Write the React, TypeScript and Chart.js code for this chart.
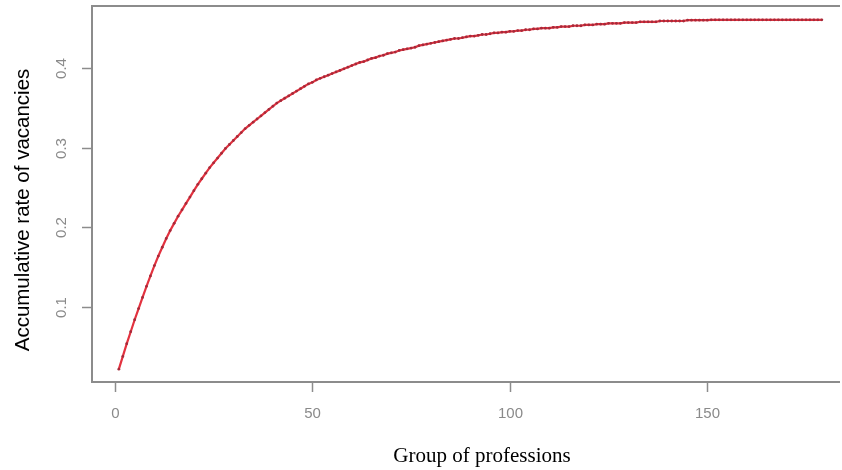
import React, { useEffect, useRef } from "react";
import { Chart, registerables } from "chart.js";

Chart.register(...registerables);

const rates: number[] = [
  0.022, 0.038, 0.054, 0.069, 0.084, 0.098, 0.112, 0.126, 0.139, 0.152,
  0.164, 0.175, 0.186, 0.196, 0.205, 0.214, 0.222, 0.230, 0.238, 0.246,
  0.254, 0.261, 0.268, 0.275, 0.281, 0.287, 0.293, 0.299, 0.304, 0.309,
  0.314, 0.319, 0.324, 0.328, 0.332, 0.336, 0.340, 0.344, 0.348, 0.352,
  0.356, 0.359, 0.362, 0.365, 0.368, 0.371, 0.374, 0.377, 0.380, 0.382,
  0.385, 0.387, 0.389, 0.391, 0.393, 0.395, 0.397, 0.399, 0.401, 0.403,
  0.405, 0.407, 0.408, 0.410, 0.412, 0.413, 0.415, 0.416, 0.418, 0.419,
  0.420, 0.422, 0.423, 0.424, 0.425, 0.426, 0.428, 0.429, 0.430, 0.431,
  0.432, 0.433, 0.434, 0.435, 0.436, 0.437, 0.437, 0.438, 0.439, 0.440,
  0.440, 0.441, 0.442, 0.442, 0.443, 0.444, 0.444, 0.445, 0.445, 0.446,
  0.446, 0.447, 0.447, 0.448, 0.448, 0.449, 0.449, 0.450, 0.450, 0.450,
  0.451, 0.451, 0.452, 0.452, 0.452, 0.453, 0.453, 0.453, 0.454, 0.454,
  0.454, 0.455, 0.455, 0.455, 0.456, 0.456, 0.456, 0.456, 0.457, 0.457,
  0.457, 0.457, 0.458, 0.458, 0.458, 0.458, 0.458, 0.459, 0.459, 0.459,
  0.459, 0.459, 0.459, 0.459, 0.460, 0.460, 0.460, 0.460, 0.460, 0.460,
  0.4605, 0.4605, 0.4605, 0.4605, 0.4605, 0.4605, 0.4605, 0.4605, 0.4605, 0.4605,
  0.4605, 0.4605, 0.4605, 0.4605, 0.4605, 0.4605, 0.4605, 0.4605, 0.4605, 0.4605,
  0.4605, 0.4605, 0.4605, 0.4605, 0.4605, 0.4605, 0.4605, 0.4605, 0.4605,
];

const groups: number[] = rates.map((_, i) => i + 1);

const xTicks: number[] = [0, 50, 100, 150];
const yTicks: number[] = [0.1, 0.2, 0.3, 0.4];
const xTickLabels: string[] = ["0", "50", "100", "150"];
const yTickLabels: string[] = ["0.1", "0.2", "0.3", "0.4"];

const xTitle = "Group of professions";
const yTitle = "Accumulative rate of vacancies";

const rPlotPlugin = {
  id: "rPlot",
  afterDraw(chart: any) {
    const ctx = chart.ctx as CanvasRenderingContext2D;
    const { left, top, bottom, right } = chart.chartArea;
    const xs = chart.scales.x;
    const ys = chart.scales.y;
    ctx.save();
    ctx.strokeStyle = "#8c8c8c";
    ctx.lineWidth = 2;
    ctx.beginPath();
    ctx.moveTo(right + 2, top);
    ctx.lineTo(left, top);
    ctx.lineTo(left, bottom);
    ctx.lineTo(right + 2, bottom);
    ctx.stroke();

    ctx.lineWidth = 1.5;
    ctx.strokeStyle = "#8c8c8c";
    ctx.fillStyle = "#8a8a8a";
    ctx.font = "15px 'Liberation Sans', Arial, sans-serif";
    ctx.textAlign = "center";
    ctx.textBaseline = "middle";
    xTicks.forEach((v, i) => {
      const px = Math.round(xs.getPixelForValue(v)) + 0.5;
      ctx.beginPath();
      ctx.moveTo(px, bottom);
      ctx.lineTo(px, bottom + 10);
      ctx.stroke();
      ctx.fillText(xTickLabels[i], px, bottom + 32);
    });
    yTicks.forEach((v, i) => {
      const py = Math.round(ys.getPixelForValue(v)) + 0.5;
      ctx.beginPath();
      ctx.moveTo(left, py);
      ctx.lineTo(left - 10, py);
      ctx.stroke();
      ctx.save();
      ctx.translate(left - 30, py);
      ctx.rotate(-Math.PI / 2);
      ctx.fillText(yTickLabels[i], 0, 0);
      ctx.restore();
    });

    ctx.fillStyle = "#000";
    ctx.font = "21px 'Liberation Serif', 'Times New Roman', serif";
    ctx.textBaseline = "alphabetic";
    ctx.fillText(xTitle, 482, 462);

    ctx.save();
    ctx.font = "20.5px 'Liberation Sans', Arial, sans-serif";
    ctx.translate(29, 210);
    ctx.rotate(-Math.PI / 2);
    ctx.textBaseline = "alphabetic";
    ctx.fillText(yTitle, 0, 0);
    ctx.restore();
    ctx.restore();
  },
};

export default function App() {
  const ref = useRef<HTMLCanvasElement | null>(null);
  useEffect(() => {
    document.body.style.margin = "0";
    if (!ref.current) return;
    const chart = new Chart(ref.current, {
      type: "line",
      data: {
        datasets: [
          {
            data: groups.map((g, i) => ({ x: g, y: rates[i] })),
            borderColor: "#e3323f",
            borderWidth: 2.2,
            pointRadius: 1.4,
            pointBackgroundColor: "#a52a3a",
            pointBorderColor: "#a52a3a",
            pointBorderWidth: 0,
            tension: 0,
          },
        ],
      },
      options: {
        animation: false,
        responsive: false,
        maintainAspectRatio: false,
        layout: { padding: { top: 6, left: 0, right: 0, bottom: 0 } },
        plugins: { legend: { display: false }, tooltip: { enabled: false } },
        scales: {
          x: {
            type: "linear",
            min: -5.8,
            max: 183.1,
            grid: { display: false },
            border: { display: false },
            ticks: { display: false },
            afterBuildTicks: (s: any) => {
              s.ticks = xTicks.map((v) => ({ value: v }));
            },
            afterFit: (s: any) => {
              s.height = 88;
            },
          },
          y: {
            type: "linear",
            min: 0.0059,
            max: 0.4778,
            grid: { display: false },
            border: { display: false },
            ticks: { display: false },
            afterBuildTicks: (s: any) => {
              s.ticks = yTicks.map((v) => ({ value: v }));
            },
            afterFit: (s: any) => {
              s.width = 92;
            },
          },
        },
      },
      plugins: [rPlotPlugin],
    });
    return () => chart.destroy();
  }, []);
  return (
    <div style={{ width: 842, height: 470, background: "#fff", overflow: "hidden" }}>
      <canvas ref={ref} width={842} height={470} style={{ display: "block" }} />
    </div>
  );
}
